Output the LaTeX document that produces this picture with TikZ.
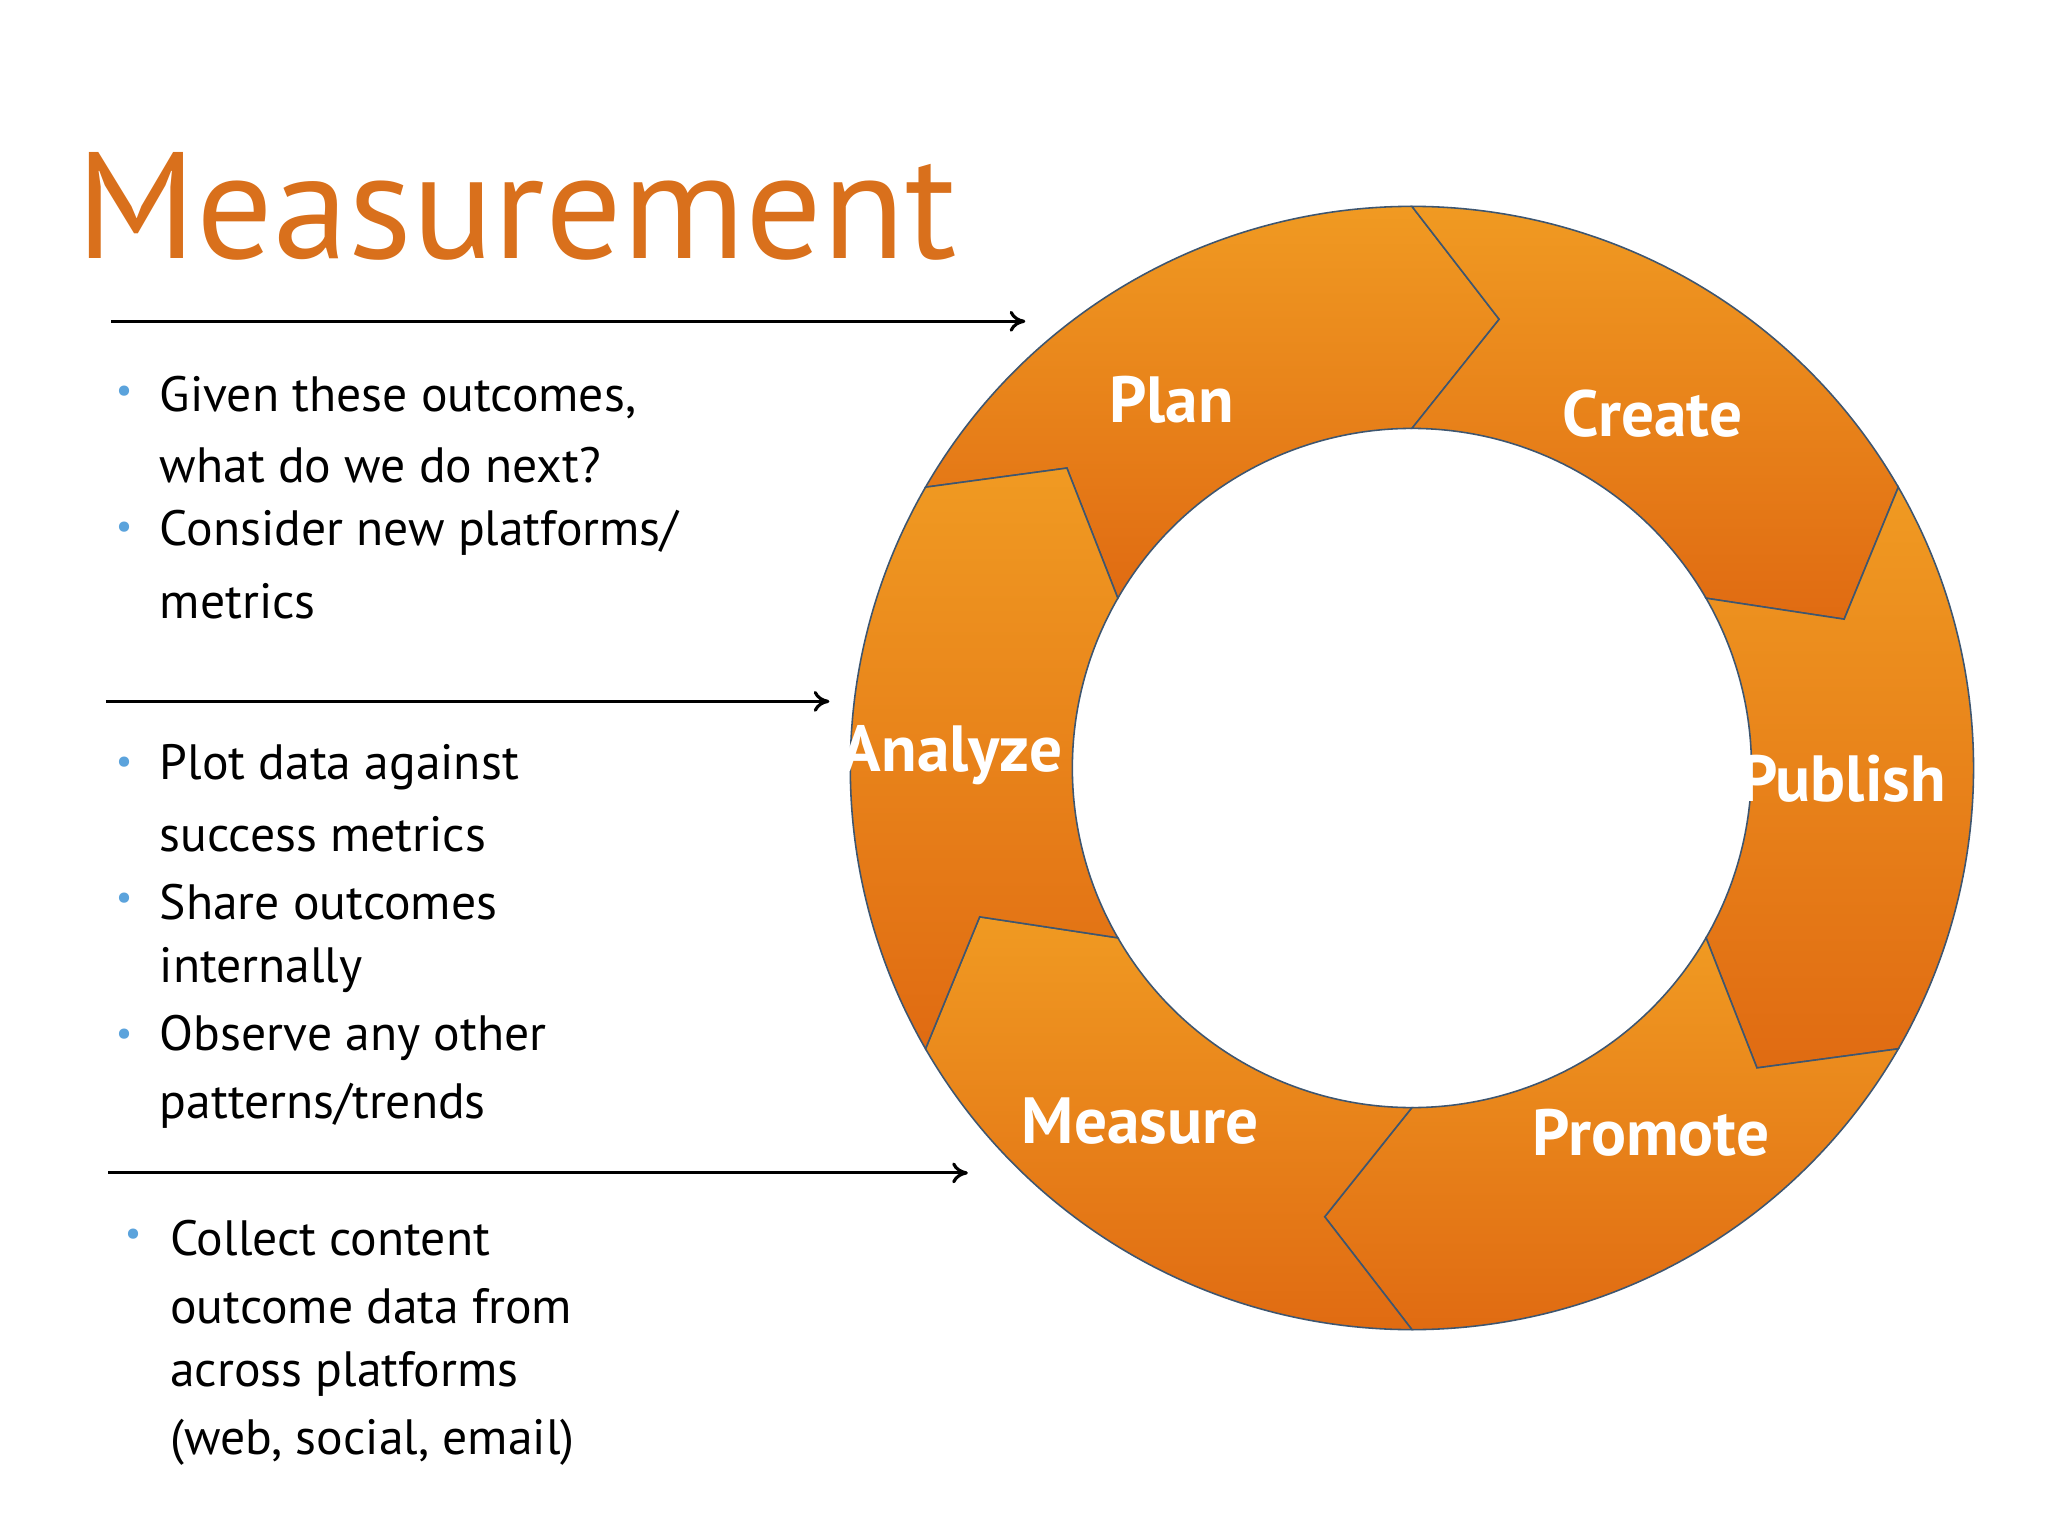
\documentclass[tikz,border=0pt]{standalone}
\usetikzlibrary{arrows.meta}
\usepackage{fontspec}
\setmainfont{PT Sans}
\definecolor{ttl}{HTML}{D9701C}
\definecolor{bul}{HTML}{5BA3DC}
\definecolor{otop}{HTML}{F09A22}
\definecolor{obot}{HTML}{E06B12}
\definecolor{edge}{HTML}{3E5670}
\newcommand\ringseg[2]{\path[seg] (#1:430) arc[start angle=#1,end angle=#2,radius=430] -- ({#2+11}:350) -- (#2:260) arc[start angle=#2,end angle=#1,radius=260] -- ({#1+11}:350) -- cycle;}
\begin{document}
\begin{tikzpicture}[x=0.5pt,y=-0.5pt,
  seg/.style={top color=otop,bottom color=obot,draw=edge,line width=0.6pt},
  lab/.style={text=white,font=\bfseries\fontsize{25}{28}\selectfont},
  body/.style={anchor=west,font=\fontsize{19}{22}\selectfont,inner sep=0pt},
  dot/.style={text=bul,font=\fontsize{14}{16}\selectfont,inner sep=0pt},
  arr/.style={-{To[length=6pt,width=8pt]},line width=1.2pt}]
\fill[white] (0,0) rectangle (1568,1176);
\useasboundingbox (0,0) rectangle (1568,1176);
\node[anchor=west,text=ttl,font=\fontsize{58}{60}\selectfont,inner sep=0pt] (title) at (58,158) {Measurement};
\begin{scope}[shift={(1081,588)}]
\ringseg{-150}{-90}
\ringseg{-90}{-30}
\ringseg{-30}{30}
\ringseg{30}{90}
\ringseg{90}{150}
\ringseg{150}{210}
\end{scope}
\node[lab] (plan) at (897,306) {Plan};
\node[lab] (create) at (1265,317) {Create};
\node[lab] (publish) at (1411,596) {Publish};
\node[lab] (promote) at (1264,867) {Promote};
\node[lab] (measure) at (873,858) {Measure};
\node[lab] (analyze) at (729,578) {Analyze};
\coordinate (a1s) at (85,246); \coordinate (a1e) at (785,246);
\coordinate (a2s) at (81,537); \coordinate (a2e) at (635,537);
\coordinate (a3s) at (83,898); \coordinate (a3e) at (741,898);
\draw[arr] (a1s) -- (a1e);
\draw[arr] (a2s) -- (a2e);
\draw[arr] (a3s) -- (a3e);
\node[dot] (d1) at (95,302) {•};
\node[dot] (d2) at (95,406) {•};
\node[body] (t1) at (122,304) {Given these outcomes,};
\node[body] (t2) at (122,356) {what do we do next?};
\node[body] (t3) at (122,408) {Consider new platforms/};
\node[body] (t4) at (122,460) {metrics};
\node[dot] (d3) at (95,586) {•};
\node[dot] (d4) at (95,690) {•};
\node[dot] (d5) at (95,794) {•};
\node[body] (t5) at (122,587) {Plot data against};
\node[body] (t6) at (122,639) {success metrics};
\node[body] (t7) at (122,691) {Share outcomes};
\node[body] (t8) at (122,743) {internally};
\node[body] (t9) at (122,795) {Observe any other};
\node[body] (t10) at (122,847) {patterns/trends};
\node[dot] (d6) at (102,947) {•};
\node[body] (t11) at (130,948) {Collect content};
\node[body] (t12) at (130,1000) {outcome data from};
\node[body] (t13) at (130,1052) {across platforms};
\node[body] (t14) at (130,1104) {(web, social, email)};
\end{tikzpicture}
\end{document}
